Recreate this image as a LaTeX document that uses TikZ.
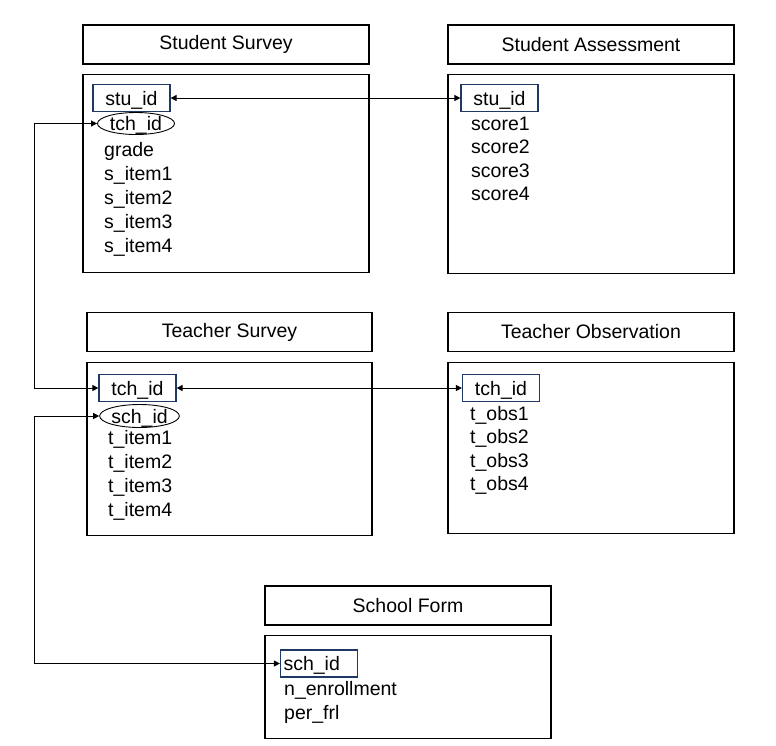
\documentclass[tikz,border=0pt]{standalone}
\usepackage{fontspec}
\setmainfont{Liberation Sans}
\usepackage{tikz}
\usetikzlibrary{shapes.geometric, arrows.meta, positioning}
\definecolor{keyblue}{HTML}{1F3864}
\newcommand{\tablefont}{\fontsize{19.5}{24}\selectfont}
\tikzset{
    title/.style={rectangle, draw=black, line width=1.2pt, minimum width=286pt, minimum height=39pt, text centered, font=\tablefont},
    table/.style={rectangle, draw=black, line width=1.2pt, minimum width=286pt},
    field/.style={anchor=base west, inner sep=0pt, font=\tablefont},
    keyfield/.style={rectangle, draw=keyblue, line width=1.2pt, minimum width=77pt, minimum height=27pt, inner sep=0pt, text height=14pt, text depth=0pt, font=\tablefont},
    linkfield/.style={ellipse, draw=black, line width=0.9pt, minimum width=77pt, minimum height=22pt, inner sep=0pt, text height=14pt, text depth=0pt, font=\tablefont},
    arrow/.style={line width=0.9pt, {Triangle[length=6pt,width=6pt]}-{Triangle[length=6pt,width=6pt]}}
}
\begin{document}
\begin{tikzpicture}[
        x=1pt, y=-1pt,
        node distance=9.5pt % gap between title and table
    ]
        \useasboundingbox (0,0) rectangle (776,745);

        % Titles and tables
        \node[title] (ss-title) at (226,44.5) {Student Survey};
        \node[table, below=of ss-title, minimum height=198pt] (ss-body) {};
        \node[title] (sa-title) at (591,44.5) {Student Assessment};
        \node[table, below=of sa-title, minimum height=199pt] (sa-body) {};
        \node[title, minimum width=285pt] (ts-title) at (229.5,332) {Teacher Survey};
        \node[table, below=of ts-title, minimum width=285pt, minimum height=173pt] (ts-body) {};
        \node[title] (to-title) at (591,332) {Teacher Observation};
        \node[table, below=of to-title, minimum height=171pt] (to-body) {};
        \node[title] (sf-title) at (408,605.5) {School Form};
        \node[table, below=of sf-title, minimum height=103pt] (sf-body) {};

        % Key fields
        \node[keyfield] (ss-stu) at (131.5,98) {stu\_id};
        \node[linkfield] (ss-tch) at (136,123.5) {tch\_id};
        \node[keyfield] (sa-stu) at (499.5,98) {stu\_id};
        \node[keyfield] (ts-tch) at (137.5,388) {tch\_id};
        \node[linkfield, minimum height=23pt] (ts-sch) at (139.5,416) {sch\_id};
        \node[keyfield] (to-tch) at (501,388) {tch\_id};
        \node[keyfield, text width=71pt, inner xsep=3pt, align=left] (sf-sch) at (319,663.5) {sch\_id};

        % Other fields
        \foreach \txt [count=\i] in {grade, s\_item1, s\_item2, s\_item3, s\_item4}
            \node[field] (ss-f\i) at (104,132+24*\i) {\txt};
        \foreach \txt [count=\i] in {score1, score2, score3, score4}
            \node[field] (sa-f\i) at (471,106.5+23.5*\i) {\txt};
        \foreach \txt [count=\i] in {t\_item1, t\_item2, t\_item3, t\_item4}
            \node[field] (ts-f\i) at (108,420+24*\i) {\txt};
        \foreach \txt [count=\i] in {t\_obs1, t\_obs2, t\_obs3, t\_obs4}
            \node[field] (to-f\i) at (470,396.5+23.5*\i) {\txt};
        \foreach \txt [count=\i] in {n\_enrollment, per\_frl}
            \node[field] (sf-f\i) at (284,671+24*\i) {\txt};

        % Arrows
        \coordinate (lane) at (34,0);
        \draw[arrow] (ss-stu.east) -- (sa-stu.west);
        \draw[arrow] (ts-tch.east) -- (to-tch.west);
        \draw[arrow] (ss-tch.west) -- (ss-tch.west -| lane) |- (ts-tch.west);
        \draw[arrow] (ts-sch.west) -- (ts-sch.west -| lane) |- (sf-sch.west);
    \end{tikzpicture}
\end{document}
